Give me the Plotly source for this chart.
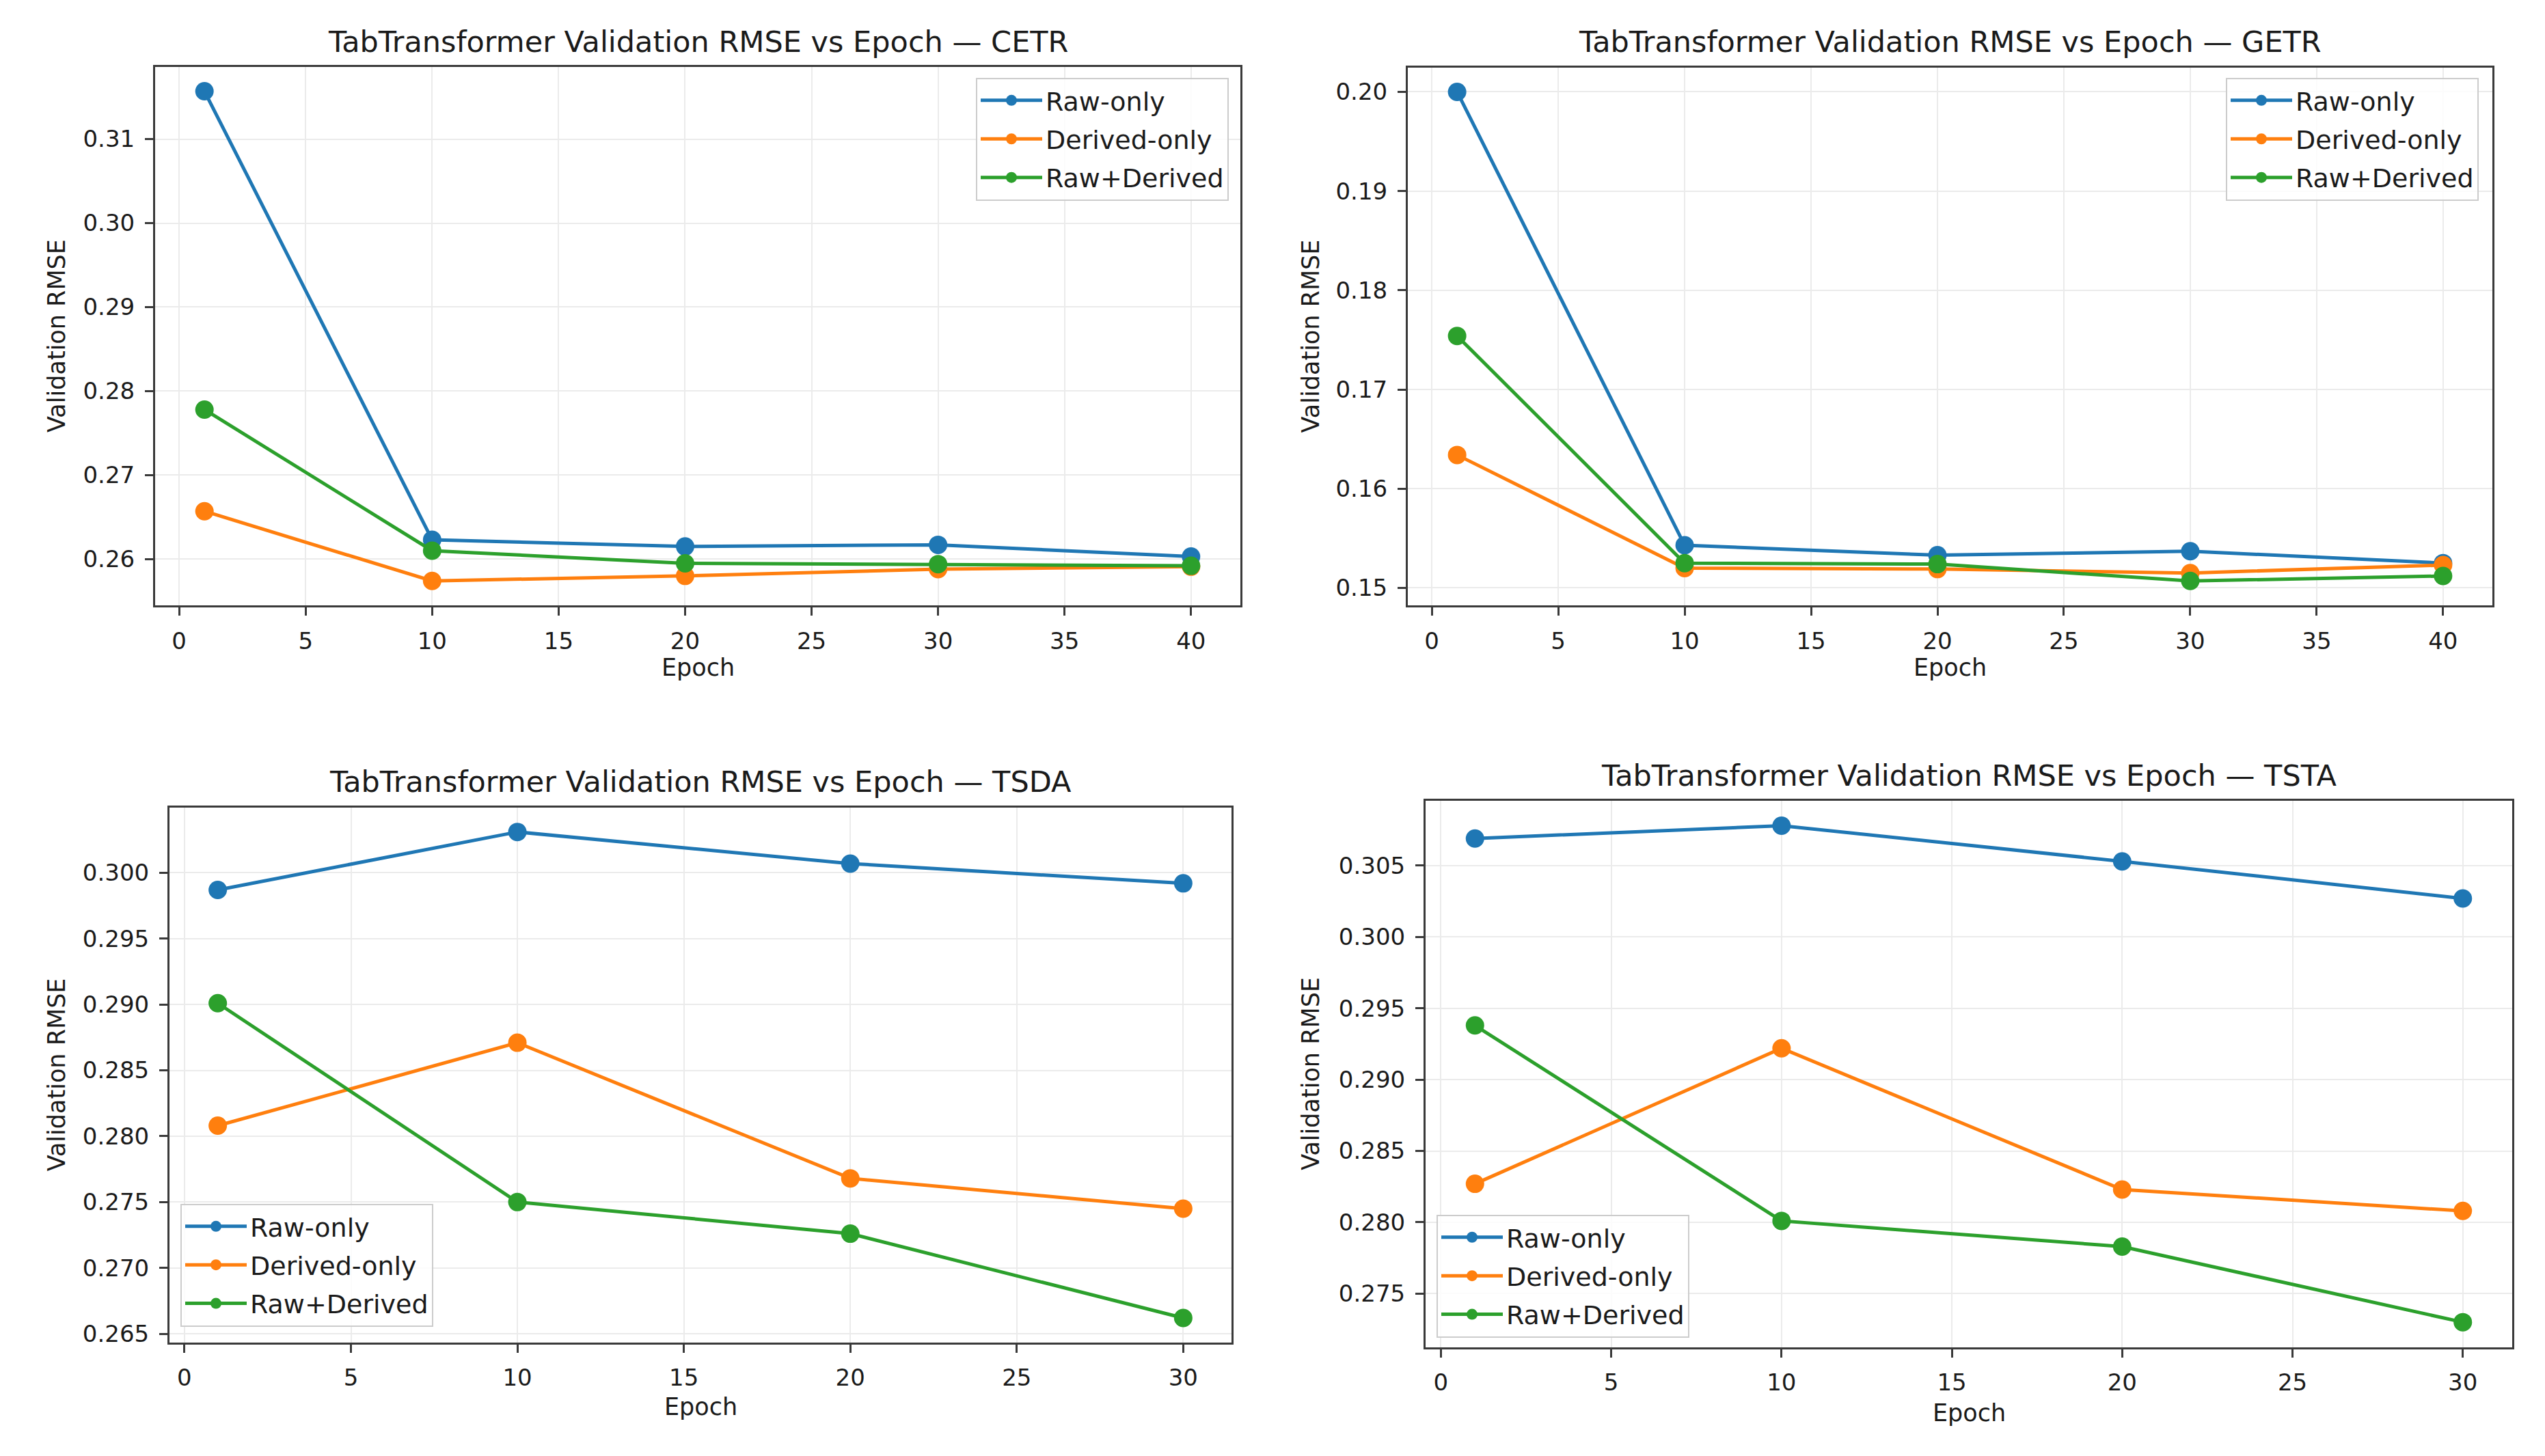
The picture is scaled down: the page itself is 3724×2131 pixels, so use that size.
import plotly.graph_objects as go

W, H = 3724, 2131

series_names = ["Raw-only", "Derived-only", "Raw+Derived"]
colors = ["#1f77b4", "#ff7f0e", "#2ca02c"]

titles = [
    "TabTransformer Validation RMSE vs Epoch — CETR",
    "TabTransformer Validation RMSE vs Epoch — GETR",
    "TabTransformer Validation RMSE vs Epoch — TSDA",
    "TabTransformer Validation RMSE vs Epoch — TSTA",
]

cetr_epochs = [1, 10, 20, 30, 40]
cetr_raw = [0.3157, 0.2623, 0.2615, 0.2617, 0.2603]
cetr_derived = [0.2657, 0.2574, 0.2580, 0.2588, 0.2591]
cetr_both = [0.2778, 0.2610, 0.2595, 0.2594, 0.2592]

getr_epochs = [1, 10, 20, 30, 40]
getr_raw = [0.2000, 0.1543, 0.1533, 0.1537, 0.1525]
getr_derived = [0.1634, 0.1520, 0.1519, 0.1515, 0.1523]
getr_both = [0.1754, 0.1525, 0.1524, 0.1507, 0.1512]

tsda_epochs = [1, 10, 20, 30]
tsda_raw = [0.2987, 0.3031, 0.3007, 0.2992]
tsda_derived = [0.2808, 0.2871, 0.2768, 0.2745]
tsda_both = [0.2901, 0.2750, 0.2726, 0.2662]

tsta_epochs = [1, 10, 20, 30]
tsta_raw = [0.3069, 0.3078, 0.3053, 0.3027]
tsta_derived = [0.2827, 0.2922, 0.2823, 0.2808]
tsta_both = [0.2938, 0.2801, 0.2783, 0.2730]

panels = [
    (cetr_epochs, [cetr_raw, cetr_derived, cetr_both]),
    (getr_epochs, [getr_raw, getr_derived, getr_both]),
    (tsda_epochs, [tsda_raw, tsda_derived, tsda_both]),
    (tsta_epochs, [tsta_raw, tsta_derived, tsta_both]),
]

# frame boxes in pixels: (left, top, right, bottom)
frames = [
    (227, 98, 1815, 889),
    (2060, 99, 3647, 889),
    (248, 1186, 1802, 1971),
    (2086, 1176, 3676, 1978),
]
ytick_step = [0.01, 0.01, 0.005, 0.005]
ytick_fmt = [".2f", ".2f", ".3f", ".3f"]
title_y = [61, 61, 1148, 1139]
xlabel_y = [980, 980, 2066, 2075]
ylabel_x = [83, 1918, 83, 1918]
# legends: (x, y, xanchor, yanchor) in px
legend_pos = [
    (1798, 114, "right", "top"),
    (3627, 114, "right", "top"),
    (264, 1948, "left", "bottom"),
    (2102, 1964, "left", "bottom"),
]

FONT = "DejaVu Sans"
TXT = "#1a1a1a"

fig = go.Figure()
layout = dict(
    width=W, height=H, autosize=False,
    margin=dict(l=0, r=0, t=0, b=0),
    paper_bgcolor="white", plot_bgcolor="white",
    font=dict(family=FONT, size=34, color=TXT),
    annotations=[],
)

def px_x(v):
    return v / W

def px_y(v):
    return 1 - v / H

for i, (epochs, ys) in enumerate(panels):
    k = "" if i == 0 else str(i + 1)
    leg = "legend" if i == 0 else f"legend{i + 1}"
    for j, (name, col) in enumerate(zip(series_names, colors)):
        fig.add_trace(go.Scatter(
            x=epochs, y=ys[j], name=name, mode="lines+markers",
            line=dict(color=col, width=5),
            marker=dict(color=col, size=27),
            xaxis="x" + k, yaxis="y" + k,
            legend=leg, legendgroup=f"p{i}_{j}",
        ))
    allv = [v for s in ys for v in s]
    lo, hi = min(allv), max(allv)
    pad = 0.05 * (hi - lo)
    x0, x1 = min(epochs), max(epochs)
    xpad = 0.05 * (x1 - x0)
    l, t, r, b = frames[i]
    axcommon = dict(
        showline=True, mirror=True, linecolor="#3a3a3a", linewidth=3,
        ticks="outside", ticklen=12, tickwidth=3, tickcolor="#3a3a3a",
        showgrid=True, gridcolor="#ebebeb", gridwidth=2,
        zeroline=False, tickfont=dict(family=FONT, size=34, color=TXT),
        ticklabelstandoff=8,
    )
    layout["xaxis" + k] = dict(
        axcommon, domain=[px_x(l), px_x(r)], anchor="y" + k,
        range=[x0 - xpad, x1 + xpad], tick0=0, dtick=5,
    )
    layout["yaxis" + k] = dict(
        axcommon, domain=[px_y(b), px_y(t)], anchor="x" + k,
        range=[lo - pad, hi + pad], tick0=0, dtick=ytick_step[i],
        tickformat=ytick_fmt[i],
    )
    cx = (l + r) / 2
    cy = (t + b) / 2
    layout["annotations"].append(dict(
        text=titles[i], x=px_x(cx), y=px_y(title_y[i]), xref="paper", yref="paper",
        xanchor="center", yanchor="middle", showarrow=False,
        font=dict(family=FONT, size=43, color=TXT),
    ))
    layout["annotations"].append(dict(
        text="Epoch", x=px_x(cx), y=px_y(xlabel_y[i]), xref="paper", yref="paper",
        xanchor="center", yanchor="middle", showarrow=False,
        font=dict(family=FONT, size=35, color=TXT),
    ))
    layout["annotations"].append(dict(
        text="Validation RMSE", x=px_x(ylabel_x[i]), y=px_y(cy), xref="paper", yref="paper",
        xanchor="center", yanchor="middle", showarrow=False, textangle=-90,
        font=dict(family=FONT, size=35, color=TXT),
    ))
    lx, ly, xa, ya = legend_pos[i]
    layout[leg] = dict(
        x=px_x(lx), y=px_y(ly), xanchor=xa, yanchor=ya,
        xref="paper", yref="paper",
        bgcolor="rgba(255,255,255,0.85)", bordercolor="#cccccc", borderwidth=2,
        font=dict(family=FONT, size=38, color=TXT),
        itemwidth=90, tracegroupgap=4,
    )

fig.update_layout(**layout)
fig.write_html("out.html")
